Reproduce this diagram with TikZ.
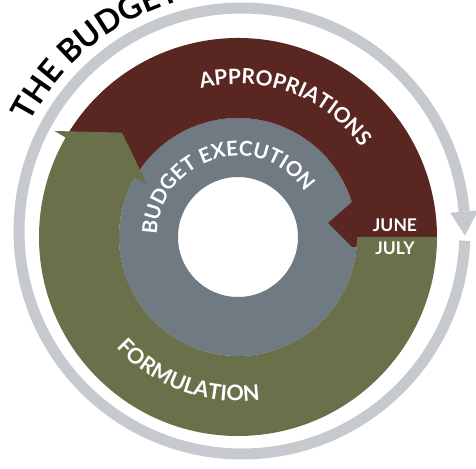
\documentclass[tikz,border=0pt]{standalone}
\usepackage{fontspec}
\setmainfont{Lato}
\usetikzlibrary{decorations.text}
\definecolor{cyclemaroon}{HTML}{5A2621}
\definecolor{cycleolive}{HTML}{69704A}
\definecolor{cycleslate}{HTML}{707A83}
\definecolor{cyclering}{HTML}{C6C9CD}

\begin{document}
\begin{tikzpicture}[x=1pt, y=1pt]
    \useasboundingbox (-238,-231) rectangle (238,237);
    \clip (-238,-231) rectangle (238,237);

    % the big ring around everything, a bit off centre
    \coordinate (c) at (4,6);
    \draw [cyclering, line width=11pt] ([shift={(-2.5:223)}]c) arc (-2.5:-355:223);
    \fill [cyclering] ([shift={(5:209)}]c) -- ([shift={(5:237)}]c)
        -- ([shift={(-1.2:223)}]c) -- cycle;

    % execution disk with a hole
    \fill [cycleslate, even odd rule] (0,0) circle (119) (0,0) circle (60);

    % appropriations band, top half
    \fill [cyclemaroon] (150:199) arc (150:0:199) -- (119,0) arc (0:150:119) -- cycle;
    % formulation band, arrow head at the top left
    \fill [cycleolive] (0:199) arc (0:-210:199) -- (150:212) -- (138:156)
        -- (150:105) -- (150:119) arc (150:360:119) -- cycle;
    % appropriations arrow head pointing in
    \fill [cyclemaroon] (114,35) -- (90,14) -- (114,-10) -- (118.6,-10)
        -- (119,0) -- (125,0) -- (125,35) -- cycle;

    % curved labels
    \path [decorate, decoration={text along path, text align=center, text color=white,
        text={|\fontsize{21}{21}\bfseries\selectfont|APPROPRIATIONS}}]
        (110:153) arc (110:30:153);
    \path [decorate, decoration={text along path, text align=center, text color=white,
        text={|\fontsize{20.5}{20.5}\bfseries\selectfont|BUDGET EXECUTION}}]
        (180:81) arc (180:32:81);
    \path [decorate, decoration={text along path, text align=center, text color=white,
        text={|\fontsize{21.5}{21.5}\bfseries\selectfont|FORMULATION}}]
        (215:164) arc (215:285:164);
    \path [decorate, decoration={text along path, text align=left,
        text={|\fontsize{32}{32}\bfseries\selectfont|THE BUDGET}}]
        ([shift={(153:238)}]c) arc (153:60:238);

    \node [white, font=\fontsize{17.5}{17.5}\bfseries\selectfont] (june) at (157,12) {JUNE};
    \node [white, font=\fontsize{17.5}{17.5}\bfseries\selectfont] (july) at (157,-11) {JULY};
\end{tikzpicture}
\end{document}
